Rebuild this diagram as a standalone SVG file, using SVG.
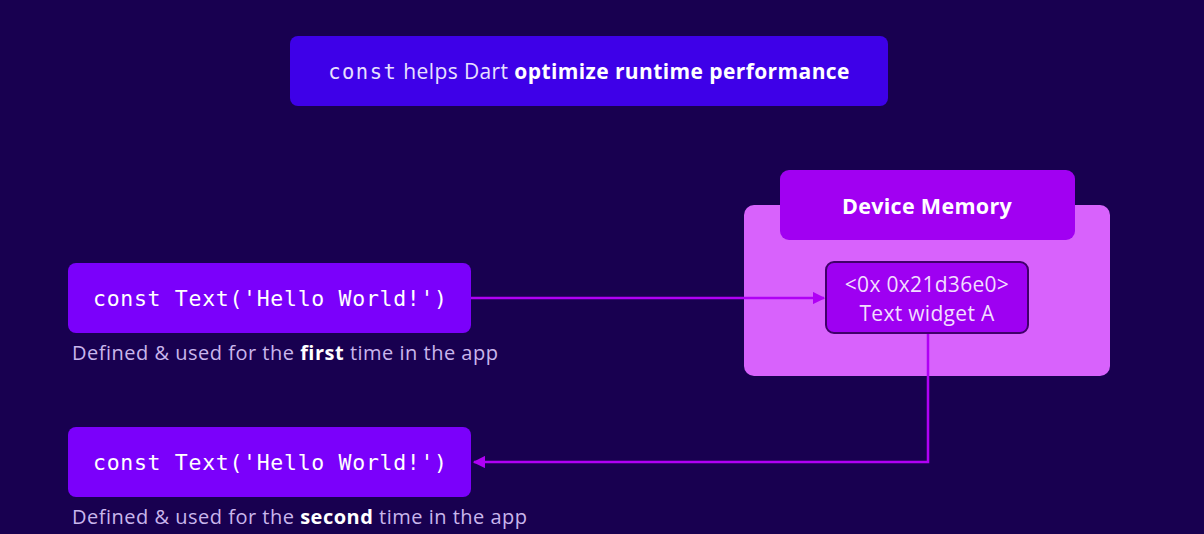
<svg xmlns="http://www.w3.org/2000/svg" width="1204" height="534" viewBox="0 0 1204 534">
<defs>
<style>
.sans{font-family:"Open Sans","Liberation Sans",sans-serif;}
.mono{font-family:"DejaVu Sans Mono","Liberation Mono",monospace;}
.code{fill:#7b00fb;}
.codetxt{fill:#ffffff;font-size:21.5px;letter-spacing:0.7px;}
.cap{fill:#c9b6ec;font-size:20px;letter-spacing:0.5px;}
.conn{stroke:#b000f5;stroke-width:2.5;fill:none;}
</style>
<marker id="ah" viewBox="0 0 10 10" refX="9" refY="5" markerWidth="5" markerHeight="5" orient="auto-start-reverse" markerUnits="strokeWidth">
<path d="M0,0 L10,5 L0,10 z" fill="#b000f5"/>
</marker>
</defs>
<rect x="0" y="0" width="1204" height="534" fill="#180050"/>

<g id="title">
<rect x="290" y="36" width="598" height="70" rx="8" fill="#3e00e8"/>
<text x="589" y="79" text-anchor="middle" class="sans" font-size="21" letter-spacing="0.4" fill="#e8e0ff"><tspan class="mono" font-size="20.5" letter-spacing="1.5">const</tspan> helps Dart <tspan font-weight="bold" fill="#ffffff">optimize runtime performance</tspan></text>
</g>

<g id="memory">
<rect x="744" y="205" width="366" height="171" rx="10" fill="#d862fc"/>
<rect x="780" y="170" width="295" height="70" rx="9" fill="#a100f2"/>
<text x="927" y="214" text-anchor="middle" class="sans" font-size="21.5" letter-spacing="0.3" font-weight="bold" fill="#ffffff">Device Memory</text>
</g>

<g id="widgetA">
<rect x="826" y="262" width="202" height="71" rx="8" fill="#9e00f2" stroke="#40006a" stroke-width="2"/>
<text x="927" y="292" text-anchor="middle" class="sans" font-size="21" letter-spacing="0.3" fill="#f2ddff">&lt;0x 0x21d36e0&gt;</text>
<text x="927" y="321" text-anchor="middle" class="sans" font-size="21" letter-spacing="0.3" fill="#f2ddff">Text widget A</text>
</g>

<g id="code1">
<rect x="68" y="263" width="403" height="70" rx="8" class="code"/>
<text x="93" y="306" class="mono codetxt">const Text('Hello World!')</text>
<text x="72" y="360" class="sans cap">Defined &amp; used for the <tspan font-weight="bold" fill="#ffffff">first</tspan> time in the app</text>
</g>

<g id="code2">
<rect x="68" y="427" width="403" height="70" rx="8" class="code"/>
<text x="93" y="470" class="mono codetxt">const Text('Hello World!')</text>
<text x="72" y="524" class="sans cap">Defined &amp; used for the <tspan font-weight="bold" fill="#ffffff">second</tspan> time in the app</text>
</g>

<g id="connectors">
<path class="conn" d="M471,298 L824,298" marker-end="url(#ah)"/>
<path class="conn" d="M928,334 L928,462 L474,462" marker-end="url(#ah)"/>
</g>
</svg>
